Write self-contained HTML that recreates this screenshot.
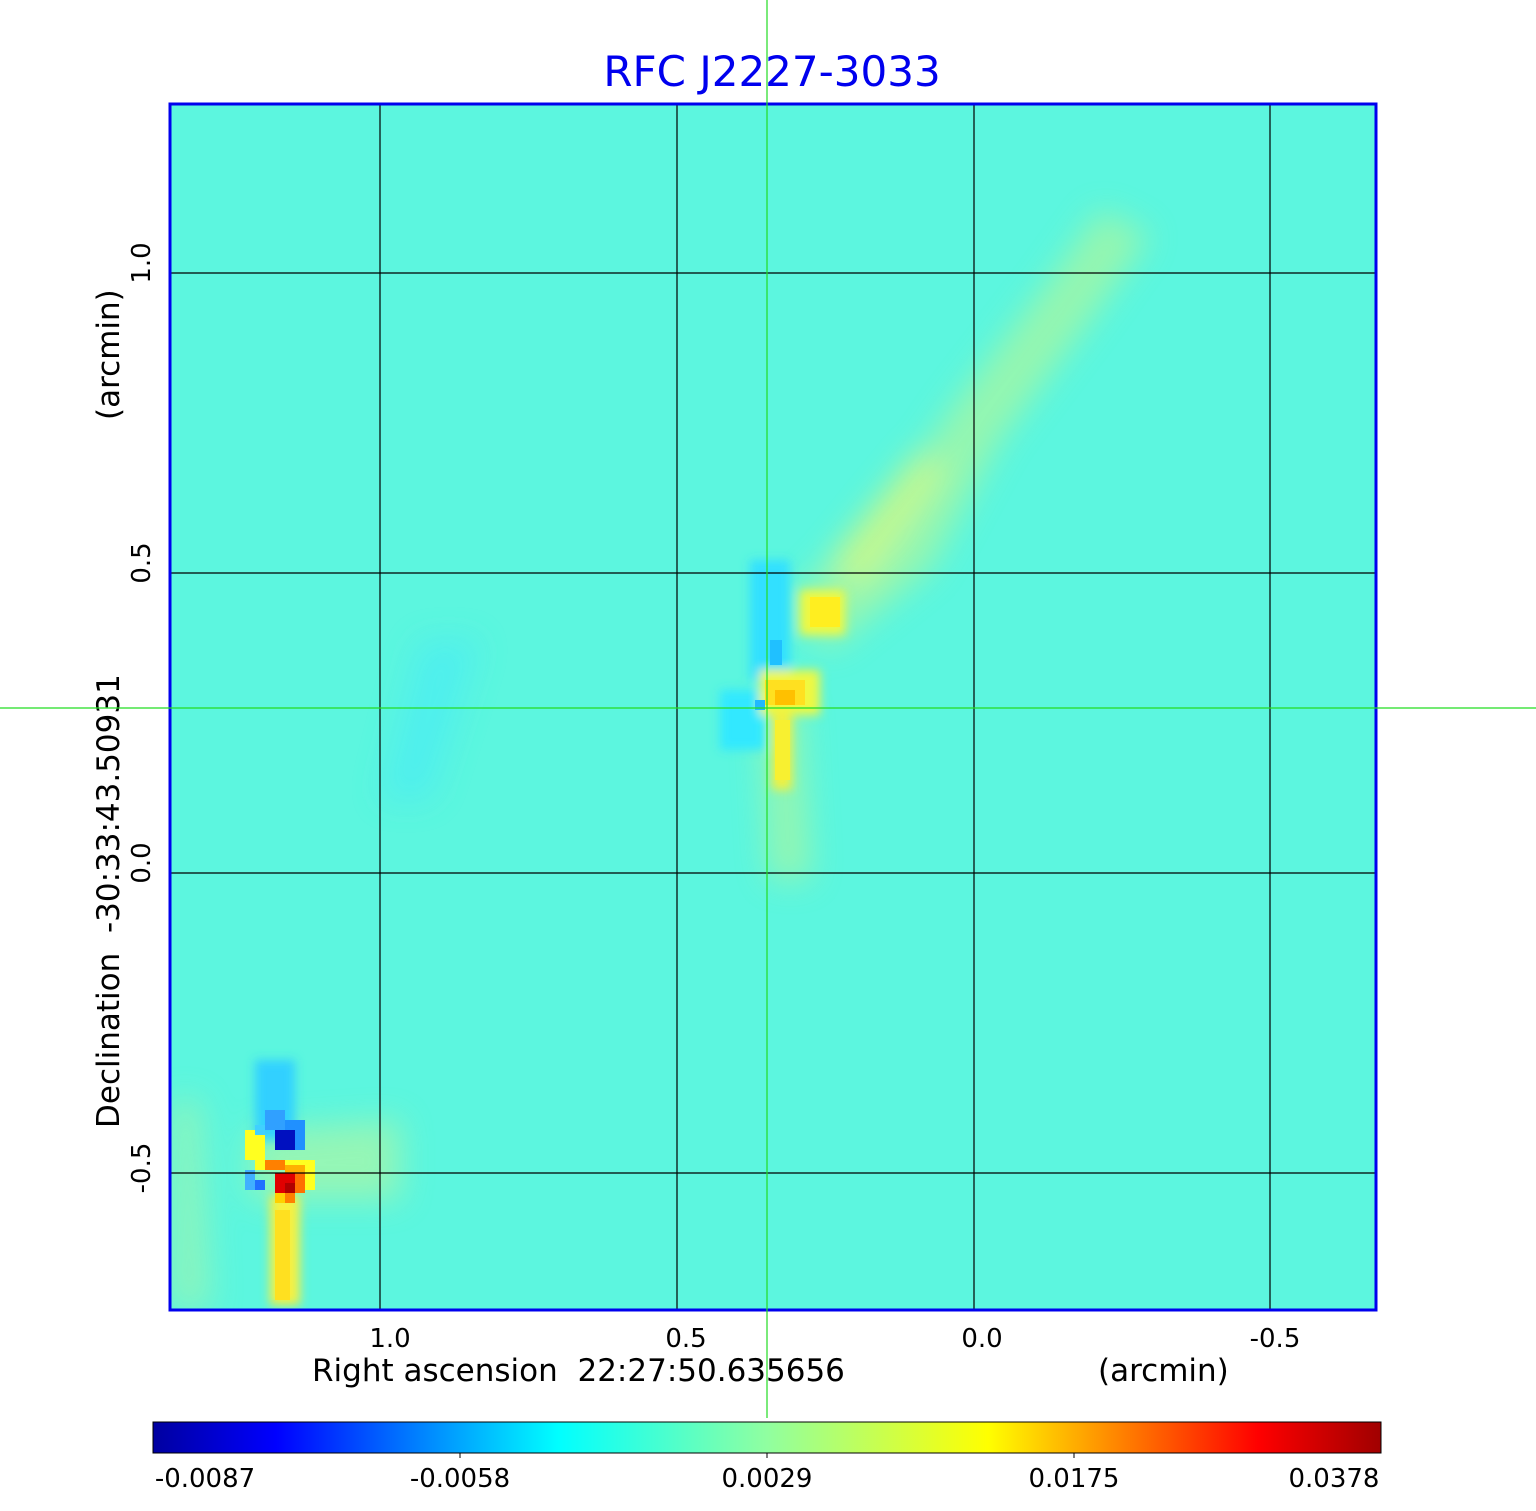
<!DOCTYPE html>
<html><head><style>
html,body{margin:0;padding:0;background:#fff;}
svg{display:block;font-family:"DejaVu Sans","Liberation Sans",sans-serif;}
</style></head><body>
<svg width="1536" height="1511" viewBox="0 0 1536 1511" xmlns="http://www.w3.org/2000/svg">
<defs>
<filter id="b" x="-50%" y="-50%" width="200%" height="200%"><feGaussianBlur stdDeviation="16"/></filter>
<filter id="b2" x="-50%" y="-50%" width="200%" height="200%"><feGaussianBlur stdDeviation="5"/></filter>
<linearGradient id="jet" x1="0" x2="1" y1="0" y2="0">
<stop offset="0" stop-color="#0000a0"/><stop offset="0.1" stop-color="#0000ff"/>
<stop offset="0.33" stop-color="#00ffff"/><stop offset="0.5" stop-color="#90ffa0"/>
<stop offset="0.68" stop-color="#ffff00"/><stop offset="0.9" stop-color="#ff0000"/>
<stop offset="1" stop-color="#a00000"/></linearGradient>
<clipPath id="c"><rect x="170" y="104" width="1206" height="1206"/></clipPath>
</defs>
<text x="772" y="86" font-size="42" fill="#0000ee" text-anchor="middle">RFC J2227-3033</text>
<g clip-path="url(#c)">
<rect x="170" y="104" width="1206" height="1206" fill="#5cf6df"/>
<g filter="url(#b)" opacity="0.75">
<path d="M780 610 L890 500 L950 410 L1050 280 L1100 210 L1150 235 L1090 320 L1000 440 L930 570 L830 650 Z" fill="#a8f6a0"/>
<path d="M830 560 L920 450 L945 470 L860 590 Z" fill="#e8f870"/>
<path d="M250 1130 L400 1120 L400 1200 L250 1200 Z" fill="#a8f6a8"/>
<path d="M760 700 L800 700 L810 880 L770 880 Z" fill="#a8f6a0"/>
<path d="M420 640 L480 640 L430 800 L380 800 Z" fill="#40e8ff" opacity="0.6"/>
<path d="M170 1100 L200 1100 L210 1310 L170 1310 Z" fill="#9cf4b0"/>
</g>
<g filter="url(#b2)">
<rect x="750" y="560" width="40" height="120" fill="#30e0ff"/>
<rect x="720" y="690" width="45" height="60" fill="#30e8ff"/>
<rect x="800" y="590" width="45" height="45" fill="#f0f840"/>
<rect x="760" y="670" width="60" height="45" fill="#f0f840"/>
<rect x="772" y="710" width="20" height="80" fill="#f0f040"/>
<rect x="255" y="1060" width="40" height="80" fill="#30d0ff"/>
<rect x="270" y="1195" width="30" height="110" fill="#f8f040"/>
</g>
<rect x="810" y="597" width="30" height="30" fill="#ffee20"/>
<rect x="770" y="640" width="12" height="25" fill="#20c0ff"/>
<rect x="755" y="700" width="10" height="10" fill="#20b8ff"/>
<rect x="765" y="680" width="40" height="25" fill="#ffe020"/>
<rect x="775" y="690" width="20" height="15" fill="#ffc000"/>
<rect x="775" y="720" width="15" height="60" fill="#f8f030"/>
<rect x="245" y="1130" width="20" height="30" fill="#ffff20"/>
<rect x="255" y="1160" width="60" height="10" fill="#ffff20"/>
<rect x="305" y="1160" width="10" height="30" fill="#ffff20"/>
<rect x="255" y="1125" width="10" height="10" fill="#40d0ff"/>
<rect x="265" y="1110" width="20" height="20" fill="#30a0ff"/>
<rect x="285" y="1120" width="20" height="30" fill="#2090ff"/>
<rect x="275" y="1130" width="20" height="20" fill="#0010c0"/>
<rect x="265" y="1160" width="20" height="10" fill="#ff8000"/>
<rect x="285" y="1165" width="20" height="10" fill="#ffb000"/>
<rect x="275" y="1173" width="20" height="20" fill="#e00000"/>
<rect x="285" y="1183" width="10" height="10" fill="#b00000"/>
<rect x="295" y="1173" width="10" height="20" fill="#ff7000"/>
<rect x="285" y="1193" width="10" height="10" fill="#ff8000"/>
<rect x="275" y="1193" width="10" height="10" fill="#ffd000"/>
<rect x="245" y="1170" width="10" height="20" fill="#40b0ff"/>
<rect x="255" y="1180" width="10" height="10" fill="#2070ff"/>
<rect x="275" y="1210" width="15" height="90" fill="#ffe020"/>
<g stroke="#000" stroke-width="1.2">
<line x1="380" y1="104" x2="380" y2="1310"/><line x1="677" y1="104" x2="677" y2="1310"/>
<line x1="974" y1="104" x2="974" y2="1310"/><line x1="1270" y1="104" x2="1270" y2="1310"/>
<line x1="170" y1="273" x2="1376" y2="273"/><line x1="170" y1="573" x2="1376" y2="573"/>
<line x1="170" y1="873" x2="1376" y2="873"/><line x1="170" y1="1173" x2="1376" y2="1173"/>
</g>
</g>
<rect x="170" y="104" width="1206" height="1206" fill="none" stroke="#0000ee" stroke-width="3"/>
<g font-size="26" fill="#000" text-anchor="middle">
<text x="390" y="1347">1.0</text><text x="686" y="1347">0.5</text>
<text x="982" y="1347">0.0</text><text x="1275" y="1347">-0.5</text>
<text transform="translate(150,263) rotate(-90)">1.0</text>
<text transform="translate(150,563) rotate(-90)">0.5</text>
<text transform="translate(150,863) rotate(-90)">0.0</text>
<text transform="translate(150,1168) rotate(-90)">-0.5</text>
</g>
<g font-size="31" fill="#000">
<text x="312" y="1381">Right ascension &#160;22:27:50.635656</text>
<text x="1098" y="1381">(arcmin)</text>
<text transform="translate(119,1128) rotate(-90)">Declination &#160;-30:33:43.50931</text>
<text transform="translate(119,420) rotate(-90)">(arcmin)</text>
</g>
<rect x="153" y="1422" width="1228" height="31" fill="url(#jet)" stroke="#000" stroke-width="1"/>
<g stroke="#000" stroke-width="1"><line x1="460" y1="1453" x2="460" y2="1458"/><line x1="767" y1="1453" x2="767" y2="1458"/><line x1="1074" y1="1453" x2="1074" y2="1458"/></g>
<g font-size="26" fill="#000" text-anchor="middle">
<text x="205" y="1487">-0.0087</text><text x="460" y="1487">-0.0058</text>
<text x="767" y="1487">0.0029</text><text x="1074" y="1487">0.0175</text>
<text x="1334" y="1487">0.0378</text>
</g>
<line x1="767" y1="0" x2="767" y2="1418" stroke="#22dd22" stroke-width="1.2"/>
<line x1="0" y1="708" x2="1536" y2="708" stroke="#22dd22" stroke-width="1.2"/>
</svg>
</body></html>
